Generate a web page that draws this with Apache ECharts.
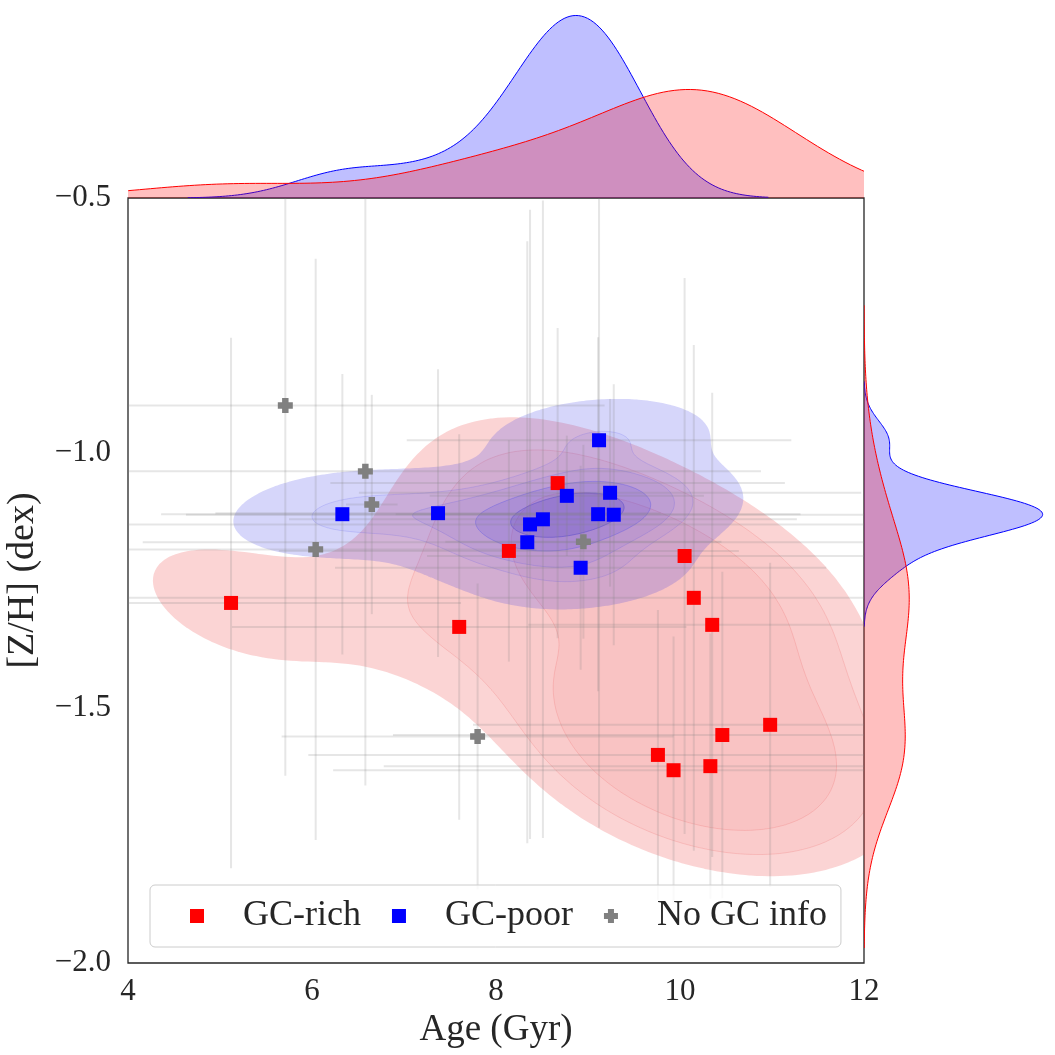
<!DOCTYPE html>
<html lang="en">
<head>
    <meta charset="UTF-8">
    <title>Age vs [Z/H]</title>
    <script src="https://cdn.jsdelivr.net/npm/echarts@6/dist/echarts.min.js"></script>
    <style>html, body { margin: 0; padding: 0; background: #fff; }</style>
</head>
<body>
<div id="main" style="width: 1055px;height:1055px;"></div>
<script type="text/javascript">
    // GC-rich galaxies
    var richAge    = [5.12, 7.60, 8.14, 8.67, 10.05, 10.15, 10.35, 10.98, 10.46, 9.76, 9.93, 10.33];
    var richZH     = [-1.294, -1.341, -1.192, -1.059, -1.202, -1.284, -1.337, -1.533, -1.553, -1.592, -1.622, -1.614];
    var richAgeErr = [2.5, 2.47, 2.5, 2.47, 2.8, 6.2, 2.0, 3.23, 3.58, 3.8, 3.7, 3.55];
    var richZHErr  = [0.52, 0.378, 0.217, 0.304, 0.545, 0.496, 0.455, 0.318, 0.32, 0.284, 0.262, 0.26];

    // GC-poor galaxies
    var poorAge    = [6.33, 7.37, 9.12, 8.77, 9.24, 9.11, 9.28, 8.51, 8.37, 8.34, 8.92];
    var poorZH     = [-1.120, -1.118, -0.975, -1.084, -1.078, -1.120, -1.121, -1.130, -1.140, -1.175, -1.225];
    var poorAgeErr = [1.97, 2.42, 2.09, 1.49, 2.73, 2.2, 4.65, 2.76, 4.4, 4.18, 2.67];
    var poorZHErr  = [0.275, 0.282, 0.76, 0.118, 0.184, 0.347, 0.256, 0.625, 0.617, 0.59, 0.2];

    // no GC information
    var noneAge    = [5.71, 6.58, 6.65, 6.04, 8.95, 7.80];
    var noneZH     = [-0.907, -1.036, -1.101, -1.189, -1.174, -1.556];
    var noneAgeErr = [3.47, 4.3, 0.28, 2.4, 1.5, 2.13];
    var noneZHErr  = [0.726, 0.616, 0.215, 0.57, 0.19, 0.3];

    var xTicks = [4, 6, 8, 10, 12];
    var yTicks = [-2.0, -1.5, -1.0, -0.5];

    // contour levels as iso-proportions: the outer one shared by both groups,
    // the inner ones per group
    var outerLevel = 0.05;
    var richInnerLevels = [0.3, 0.5];
    var poorInnerLevels = [0.24, 0.43, 0.62, 0.81];

    var fontFam = "'Liberation Serif', 'DejaVu Serif', serif";
    var ink = '#262626';
    var plusPath = 'path://M2.85,0H7.15V2.85H10V7.15H7.15V10H2.85V7.15H0V2.85H2.85Z';

    function mean(a) {
        var s = 0;
        for (var i = 0; i < a.length; i++) s += a[i];
        return s / a.length;
    }

    // gaussian kde, scott bandwidth, full covariance (like scipy), scaled by weight
    function kde2d(xs, ys, size, cut, weight) {
        var n = xs.length, mx = mean(xs), my = mean(ys);
        var sxx = 0, syy = 0, sxy = 0;
        for (var i = 0; i < n; i++) {
            var dx = xs[i] - mx, dy = ys[i] - my;
            sxx += dx * dx; syy += dy * dy; sxy += dx * dy;
        }
        var f2 = Math.pow(n, -2 / 6);
        var a = sxx / (n - 1) * f2, b = sxy / (n - 1) * f2, c = syy / (n - 1) * f2;
        var det = a * c - b * b;
        var ia = c / det, ib = -b / det, ic = a / det;
        var norm = weight / (2 * Math.PI * Math.sqrt(det) * n);
        var bx = Math.sqrt(a), by = Math.sqrt(c);
        var x0 = Math.min.apply(null, xs) - cut * bx, x1 = Math.max.apply(null, xs) + cut * bx;
        var y0 = Math.min.apply(null, ys) - cut * by, y1 = Math.max.apply(null, ys) + cut * by;
        var gx = [], gy = [], z = [];
        for (i = 0; i < size; i++) {
            gx.push(x0 + (x1 - x0) * i / (size - 1));
            gy.push(y0 + (y1 - y0) * i / (size - 1));
        }
        for (var j = 0; j < size; j++) {
            var row = [];
            for (i = 0; i < size; i++) {
                var s = 0;
                if (i > 0 && j > 0 && i < size - 1 && j < size - 1) {
                    for (var k = 0; k < n; k++) {
                        var ex = gx[i] - xs[k], ey = gy[j] - ys[k];
                        s += Math.exp(-0.5 * (ia * ex * ex + 2 * ib * ex * ey + ic * ey * ey));
                    }
                }
                row.push(s * norm);
            }
            z.push(row);
        }
        return {xs: gx, ys: gy, z: z};
    }

    function isoLevels(rows, qs) {
        var vals = [];
        rows.forEach(function (row) { vals.push.apply(vals, row); });
        vals.sort(function (p, q) { return q - p; });
        var total = 0, cum = [];
        vals.forEach(function (v) { total += v; });
        var s = 0;
        vals.forEach(function (v) { s += v; cum.push(s / total); });
        return qs.map(function (q) {
            var idx = 0;
            while (idx < cum.length && cum[idx] < 1 - q) idx++;
            return vals[Math.min(idx, vals.length - 1)];
        });
    }

    // oriented marching squares: high side kept on the left, so holes wind the other way
    var CASES = {
        1: [[0, 3]], 2: [[1, 0]], 3: [[1, 3]], 4: [[2, 1]], 6: [[2, 0]], 7: [[2, 3]],
        8: [[3, 2]], 9: [[0, 2]], 11: [[1, 2]], 12: [[3, 1]], 13: [[0, 1]], 14: [[3, 0]]
    };
    function contourRings(g, level) {
        var xs = g.xs, ys = g.ys, z = g.z, nx = xs.length, ny = ys.length;
        var next = {}, pts = {};
        function edge(kind, i, j) {
            var key = kind + i + '_' + j;
            if (!pts[key]) {
                var a, b, t;
                if (kind === 'h') {
                    a = z[j][i]; b = z[j][i + 1]; t = (level - a) / (b - a);
                    pts[key] = [xs[i] + t * (xs[i + 1] - xs[i]), ys[j]];
                } else {
                    a = z[j][i]; b = z[j + 1][i]; t = (level - a) / (b - a);
                    pts[key] = [xs[i], ys[j] + t * (ys[j + 1] - ys[j])];
                }
            }
            return key;
        }
        for (var j = 0; j < ny - 1; j++) {
            for (var i = 0; i < nx - 1; i++) {
                var va = z[j][i], vb = z[j][i + 1], vc = z[j + 1][i + 1], vd = z[j + 1][i];
                var code = (va >= level ? 1 : 0) | (vb >= level ? 2 : 0) | (vc >= level ? 4 : 0) | (vd >= level ? 8 : 0);
                if (code === 0 || code === 15) continue;
                var pairs = CASES[code];
                if (code === 5 || code === 10) {
                    var high = (va + vb + vc + vd) / 4 >= level;
                    if (code === 5) pairs = high ? [[0, 1], [2, 3]] : [[0, 3], [2, 1]];
                    else pairs = high ? [[1, 2], [3, 0]] : [[1, 0], [3, 2]];
                }
                var e = [edge('h', i, j), edge('v', i + 1, j), edge('h', i, j + 1), edge('v', i, j)];
                pairs.forEach(function (p) { next[e[p[0]]] = e[p[1]]; });
            }
        }
        var rings = [], seen = {};
        Object.keys(next).forEach(function (k) {
            if (seen[k]) return;
            var ring = [], cur = k;
            while (cur !== undefined && !seen[cur]) {
                seen[cur] = true;
                ring.push(pts[cur]);
                cur = next[cur];
            }
            if (ring.length > 2) rings.push(ring);
        });
        return rings;
    }

    function kde1d(v, size, cut, weight) {
        var n = v.length, m = mean(v), s2 = 0;
        for (var i = 0; i < n; i++) s2 += (v[i] - m) * (v[i] - m);
        var bw = Math.sqrt(s2 / (n - 1)) * Math.pow(n, -1 / 5);
        var lo = Math.min.apply(null, v) - cut * bw, hi = Math.max.apply(null, v) + cut * bw;
        var t = [], d = [];
        for (i = 0; i < size; i++) {
            var x = lo + (hi - lo) * i / (size - 1), s = 0;
            for (var k = 0; k < n; k++) s += Math.exp(-0.5 * Math.pow((x - v[k]) / bw, 2));
            t.push(x);
            d.push(weight * s / (n * bw * Math.sqrt(2 * Math.PI)));
        }
        return {t: t, d: d};
    }

    var nAll = richAge.length + poorAge.length;
    var wRich = richAge.length / nAll, wPoor = poorAge.length / nAll;
    var richGrid = kde2d(richAge, richZH, 200, 3, wRich);
    var poorGrid = kde2d(poorAge, poorZH, 200, 3, wPoor);
    var commonOuter = isoLevels(richGrid.z.concat(poorGrid.z), [outerLevel])[0];
    var richLevelVals = [commonOuter].concat(isoLevels(richGrid.z, richInnerLevels));
    var poorLevelVals = [commonOuter].concat(isoLevels(poorGrid.z, poorInnerLevels));
    var richBands = richLevelVals.map(function (l) { return contourRings(richGrid, l); });
    var poorBands = poorLevelVals.map(function (l) { return contourRings(poorGrid, l); });

    var richAgeKde = kde1d(richAge, 200, 3, wRich), poorAgeKde = kde1d(poorAge, 200, 3, wPoor);
    var richZHKde = kde1d(richZH, 200, 3, wRich), poorZHKde = kde1d(poorZH, 200, 3, wPoor);
    var topMax = Math.max(Math.max.apply(null, richAgeKde.d), Math.max.apply(null, poorAgeKde.d)) * 1.03;
    var sideMax = Math.max(Math.max.apply(null, richZHKde.d), Math.max.apply(null, poorZHKde.d)) * 1.03;

    var richBandStyle = [
        {fill: 'rgba(235,60,60,0.22)', stroke: 'rgba(0,0,0,0)'},
        {fill: 'rgba(235,60,60,0.06)', stroke: 'rgba(230,60,60,0.16)'},
        {fill: 'rgba(235,60,60,0.06)', stroke: 'rgba(230,60,60,0.16)'}
    ];
    var poorBandStyle = [
        {fill: 'rgba(60,60,230,0.21)', stroke: 'rgba(0,0,0,0)'},
        {fill: 'rgba(60,60,230,0.06)', stroke: 'rgba(70,70,235,0.16)'},
        {fill: 'rgba(60,60,230,0.08)', stroke: 'rgba(70,70,235,0.18)'},
        {fill: 'rgba(80,70,225,0.16)', stroke: 'rgba(70,70,235,0.3)'},
        {fill: 'rgba(80,70,200,0.22)', stroke: 'rgba(70,60,200,0.4)'}
    ];

    function bandSeries(name, bands, styles) {
        return {
            name: name, type: 'custom', xAxisIndex: 0, yAxisIndex: 0, clip: true, silent: true,
            data: bands.map(function (b, i) { return [i, i]; }),
            renderItem: function (params, api) {
                var rings = bands[params.dataIndex], d = '';
                rings.forEach(function (ring) {
                    ring.forEach(function (p, k) {
                        var c = api.coord(p);
                        d += (k ? 'L' : 'M') + c[0].toFixed(1) + ' ' + c[1].toFixed(1);
                    });
                    d += 'Z';
                });
                if (!d) return null;
                var st = styles[params.dataIndex];
                return {type: 'path', shape: {pathData: d}, style: {fill: st.fill, stroke: st.stroke, lineWidth: 1}};
            }
        };
    }

    function errorSeries(name, xs, ys, ex, ey) {
        return {
            name: name, type: 'custom', xAxisIndex: 0, yAxisIndex: 0, clip: true, silent: true,
            data: xs.map(function (x, i) { return [x, ys[i], ex[i], ey[i]]; }),
            renderItem: function (params, api) {
                var x = api.value(0), y = api.value(1), dx = api.value(2), dy = api.value(3);
                var l = api.coord([x - dx, y]), r = api.coord([x + dx, y]);
                var t = api.coord([x, y + dy]), b = api.coord([x, y - dy]);
                var st = {stroke: 'rgba(128,128,128,0.2)', lineWidth: 2};
                return {type: 'group', children: [
                    {type: 'line', shape: {x1: l[0], y1: l[1], x2: r[0], y2: r[1]}, style: st},
                    {type: 'line', shape: {x1: t[0], y1: t[1], x2: b[0], y2: b[1]}, style: st}
                ]};
            }
        };
    }

    // marginal density: horizontal (top) or vertical (right)
    function marginSeries(name, kde, axisIdx, vertical, color, fill) {
        return {
            name: name, type: 'custom', xAxisIndex: axisIdx, yAxisIndex: axisIdx, clip: true, silent: true,
            data: [[0, 0]],
            renderItem: function (params, api) {
                var line = kde.t.map(function (t, i) {
                    return api.coord(vertical ? [kde.d[i], t] : [t, kde.d[i]]);
                });
                var n = kde.t.length;
                var poly = line.concat(vertical
                    ? [api.coord([0, kde.t[n - 1]]), api.coord([0, kde.t[0]])]
                    : [api.coord([kde.t[n - 1], 0]), api.coord([kde.t[0], 0])]);
                return {type: 'group', children: [
                    {type: 'polygon', shape: {points: poly}, style: {fill: fill, stroke: 'none'}},
                    {type: 'polyline', shape: {points: line}, style: {stroke: color, lineWidth: 1, fill: 'none'}}
                ]};
            }
        };
    }

    function scatterData(xs, ys) {
        return xs.map(function (x, i) { return [x, ys[i]]; });
    }

    function fmtY(v) {
        return (v < 0 ? '\u2212' : '') + Math.abs(v).toFixed(1);
    }

    var myChart = echarts.init(document.getElementById('main'));

    var option = {
        animation: false,
        backgroundColor: '#ffffff',
        grid: [
            {left: 128, top: 198, width: 736, height: 765, show: true, borderColor: ink, borderWidth: 1.3,
                backgroundColor: 'transparent', outerBoundsMode: 'none'},
            {left: 128, top: 10, width: 736, height: 188, outerBoundsMode: 'none'},
            {left: 864, top: 198, width: 184, height: 765, outerBoundsMode: 'none'}
        ],
        xAxis: [
            {
                gridIndex: 0, type: 'value', min: xTicks[0], max: xTicks[xTicks.length - 1], interval: 2,
                name: 'Age (Gyr)', nameLocation: 'middle', nameGap: 43,
                nameTextStyle: {fontFamily: fontFam, fontSize: 37, color: ink},
                axisLine: {show: false}, axisTick: {show: false}, splitLine: {show: false},
                axisLabel: {margin: 13, fontFamily: fontFam, fontSize: 31, color: ink}
            },
            {gridIndex: 1, type: 'value', min: xTicks[0], max: xTicks[xTicks.length - 1], show: false},
            {gridIndex: 2, type: 'value', min: 0, max: sideMax, show: false}
        ],
        yAxis: [
            {
                gridIndex: 0, type: 'value', min: yTicks[0], max: yTicks[yTicks.length - 1], interval: 0.5,
                name: '[Z/H] (dex)', nameLocation: 'middle', nameRotate: 90, nameGap: 86,
                nameTextStyle: {fontFamily: fontFam, fontSize: 38, color: ink},
                axisLine: {show: false}, axisTick: {show: false}, splitLine: {show: false},
                axisLabel: {margin: 17, fontFamily: fontFam, fontSize: 31, color: ink, formatter: fmtY}
            },
            {gridIndex: 1, type: 'value', min: 0, max: topMax, show: false},
            {gridIndex: 2, type: 'value', min: yTicks[0], max: yTicks[yTicks.length - 1], show: false}
        ],
        legend: {
            data: [
                {name: 'GC-rich', icon: 'rect'},
                {name: 'GC-poor', icon: 'rect'},
                {name: 'No GC info', icon: plusPath}
            ],
            left: 150, top: 885, orient: 'horizontal',
            itemWidth: 14, itemHeight: 14, itemGap: 31,
            padding: [13, 14, 13, 40],
            backgroundColor: 'rgba(255,255,255,0.8)', borderColor: '#cccccc', borderWidth: 1, borderRadius: 5,
            selectedMode: false,
            textStyle: {fontFamily: fontFam, fontSize: 36, color: ink, padding: [0, 0, 0, 34]}
        },
        series: [
            bandSeries('rich-kde', richBands, richBandStyle),
            bandSeries('poor-kde', poorBands, poorBandStyle),
            errorSeries('rich-err', richAge, richZH, richAgeErr, richZHErr),
            errorSeries('poor-err', poorAge, poorZH, poorAgeErr, poorZHErr),
            errorSeries('none-err', noneAge, noneZH, noneAgeErr, noneZHErr),
            {
                name: 'GC-rich', type: 'scatter', xAxisIndex: 0, yAxisIndex: 0,
                symbol: 'rect', symbolSize: 14, itemStyle: {color: '#ff0000', opacity: 1},
                data: scatterData(richAge, richZH), z: 5
            },
            {
                name: 'GC-poor', type: 'scatter', xAxisIndex: 0, yAxisIndex: 0,
                symbol: 'rect', symbolSize: 14, itemStyle: {color: '#0000ff', opacity: 1},
                data: scatterData(poorAge, poorZH), z: 5
            },
            {
                name: 'No GC info', type: 'scatter', xAxisIndex: 0, yAxisIndex: 0,
                symbol: plusPath, symbolSize: 15, itemStyle: {color: '#808080', opacity: 1},
                data: scatterData(noneAge, noneZH), z: 5
            },
            marginSeries('poor-top', poorAgeKde, 1, false, '#0000ff', 'rgba(0,0,255,0.25)'),
            marginSeries('rich-top', richAgeKde, 1, false, '#ff0000', 'rgba(255,0,0,0.25)'),
            marginSeries('poor-side', poorZHKde, 2, true, '#0000ff', 'rgba(0,0,255,0.25)'),
            marginSeries('rich-side', richZHKde, 2, true, '#ff0000', 'rgba(255,0,0,0.25)')
        ]
    };

    myChart.setOption(option);
</script>
</body>
</html>
